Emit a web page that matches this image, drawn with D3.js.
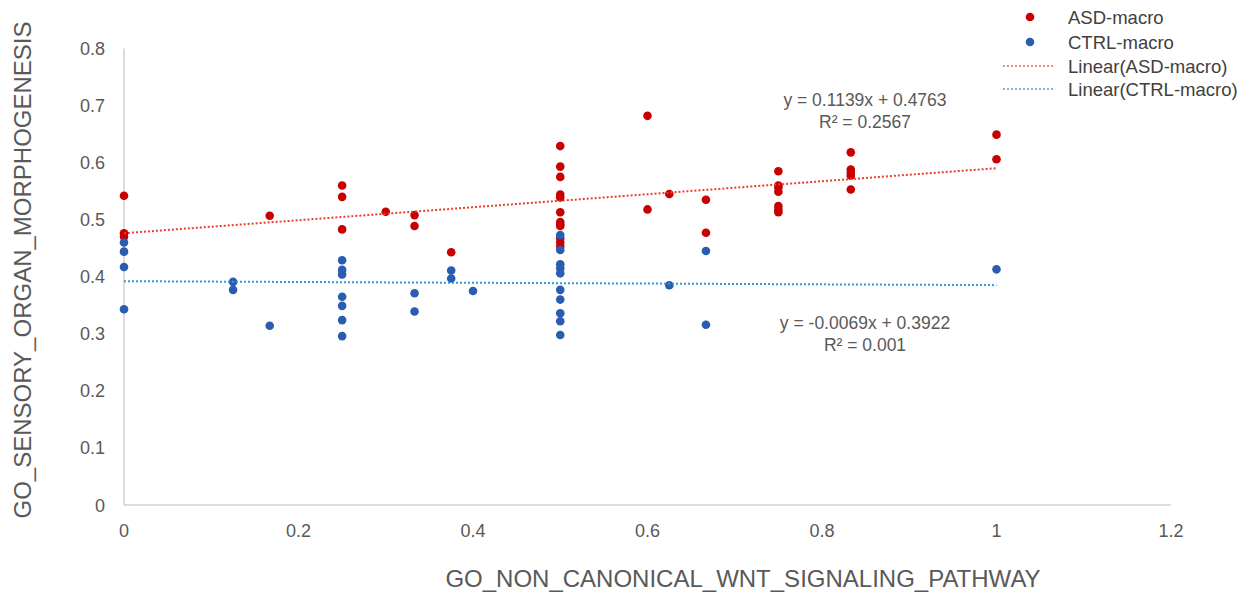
<!DOCTYPE html>
<html><head><meta charset="utf-8">
<script src="https://cdn.jsdelivr.net/npm/d3@7"></script>
<style>body{margin:0;background:#fff}svg{display:block;font-family:Arial,"Liberation Sans",sans-serif}</style>
</head><body><svg id="c" width="1256" height="594"></svg>
<script>
const asdX = [0,0,0, 0.167, 0.25,0.25,0.25, 0.30, 0.333,0.333, 0.375,
  0.5,0.5,0.5,0.5,0.5,0.5,0.5,0.5,0.5,0.5,0.5,0.5,
  0.6,0.6, 0.625, 0.667,0.667, 0.75,0.75,0.75,0.75,0.75,0.75,0.75,
  0.833,0.833,0.833,0.833,0.833, 1,1];
const asdY = [0.542,0.476,0.470, 0.507, 0.560,0.540,0.483, 0.514, 0.508,0.489, 0.443,
  0.629,0.593,0.575,0.544,0.539,0.513,0.496,0.492,0.489,0.467,0.460,0.453,
  0.682,0.518, 0.545, 0.535,0.477, 0.585,0.560,0.556,0.549,0.524,0.518,0.513,
  0.618,0.588,0.582,0.577,0.553, 0.649,0.606];
const ctrlX = [0,0,0,0, 0.125,0.125, 0.167, 0.25,0.25,0.25,0.25,0.25,0.25,0.25,
  0.333,0.333, 0.375,0.375, 0.4, 0.5,0.5,0.5,0.5,0.5,0.5,0.5,0.5,0.5,0.5,
  0.625, 0.667,0.667, 1];
const ctrlY = [0.460,0.444,0.417,0.343, 0.391,0.377, 0.314, 0.429,0.412,0.404,0.365,0.349,0.324,0.296,
  0.371,0.339, 0.411,0.397, 0.375, 0.473,0.447,0.422,0.415,0.406,0.377,0.360,0.336,0.322,0.298,
  0.385, 0.445,0.316, 0.413];
const trendNames = ["ASD-macro","CTRL-macro"];
const trendSlope = [0.1139, -0.0069];
const trendIntercept = [0.4763, 0.3922];
const trendR2 = ["0.2567", "0.001"];
const xTicks = [0,0.2,0.4,0.6,0.8,1,1.2];
const yTicks = [0,0.1,0.2,0.3,0.4,0.5,0.6,0.7,0.8];
const xTitle = "GO_NON_CANONICAL_WNT_SIGNALING_PATHWAY";
const yTitle = "GO_SENSORY_ORGAN_MORPHOGENESIS";

const svg = d3.select("#c");
const x = d3.scaleLinear().domain([0,1.2]).range([124,1171]);
const y = d3.scaleLinear().domain([0,0.8]).range([505,48.5]);
const grey = "#595959";
const red = "#c80000", blue = "#2a5cb0";
const redLine = "#e8402a", blueLine = "#2f9ae0";

// axes lines
svg.append("line").attr("x1",x(0)).attr("x2",x(0)).attr("y1",y(0.8)).attr("y2",y(0)).attr("stroke","#d0d0d0").attr("stroke-width",1.5);
svg.append("line").attr("x1",x(0)).attr("x2",x(1.2)).attr("y1",y(0)).attr("y2",y(0)).attr("stroke","#d0d0d0").attr("stroke-width",1.5);

// tick labels
svg.selectAll(".yt").data(yTicks).join("text").attr("x",105).attr("y",d=>y(d)+6.5)
  .attr("text-anchor","end").attr("font-size",18).attr("fill",grey).text(d=>d3.format("")(d));
svg.selectAll(".xt").data(xTicks).join("text").attr("x",d=>x(d)).attr("y",537)
  .attr("text-anchor","middle").attr("font-size",18).attr("fill",grey).text(d=>d3.format("")(d));

// titles
svg.append("text").attr("x",743).attr("y",587).attr("text-anchor","middle").attr("font-size",24).attr("fill",grey).text(xTitle);
svg.append("text").attr("transform","translate(31,270) rotate(-90)").attr("text-anchor","middle").attr("font-size",24).attr("fill",grey).text(yTitle);

// points
svg.append("g").selectAll("circle").data(asdX.map((v,i)=>[v,asdY[i]])).join("circle")
  .attr("cx",d=>x(d[0])).attr("cy",d=>y(d[1])).attr("r",4.3).attr("fill",red);
svg.append("g").selectAll("circle").data(ctrlX.map((v,i)=>[v,ctrlY[i]])).join("circle")
  .attr("cx",d=>x(d[0])).attr("cy",d=>y(d[1])).attr("r",4.3).attr("fill",blue);

// trendlines
const tColors = [redLine, blueLine];
trendSlope.forEach((m,i)=>{
  const b = trendIntercept[i];
  svg.append("line").attr("x1",x(0)).attr("y1",y(b)).attr("x2",x(1)).attr("y2",y(m+b))
    .attr("stroke",tColors[i]).attr("stroke-width",2).attr("stroke-dasharray","2,2");
});

// equations
const eqPos = [[865,106],[865,329]];
trendSlope.forEach((m,i)=>{
  const t = svg.append("text").attr("text-anchor","middle").attr("font-size",17.5).attr("fill",grey);
  t.append("tspan").attr("x",eqPos[i][0]).attr("y",eqPos[i][1]).text(`y = ${m}x + ${trendIntercept[i]}`);
  t.append("tspan").attr("x",eqPos[i][0]).attr("y",eqPos[i][1]+22).text(`R² = ${trendR2[i]}`);
});

// legend
const lg = svg.append("g");
const lx = 1030, ly = [17,42,66,89];
lg.append("circle").attr("cx",lx).attr("cy",ly[0]).attr("r",4.3).attr("fill",red);
lg.append("circle").attr("cx",lx).attr("cy",ly[1]).attr("r",4.3).attr("fill",blue);
lg.append("line").attr("x1",1003).attr("x2",1053).attr("y1",ly[2]).attr("y2",ly[2]).attr("stroke","#f0906a").attr("stroke-width",2).attr("stroke-dasharray","2,2");
lg.append("line").attr("x1",1003).attr("x2",1053).attr("y1",ly[3]).attr("y2",ly[3]).attr("stroke","#7ab8e8").attr("stroke-width",2).attr("stroke-dasharray","2,2");
const lt = [trendNames[0], trendNames[1], `Linear(${trendNames[0]})`, `Linear(${trendNames[1]})`];
lg.selectAll("text").data(lt).join("text").attr("x",1068).attr("y",(d,i)=>ly[i]+6.5).attr("font-size",18.5).attr("fill","#404040").text(d=>d);
</script></body></html>
